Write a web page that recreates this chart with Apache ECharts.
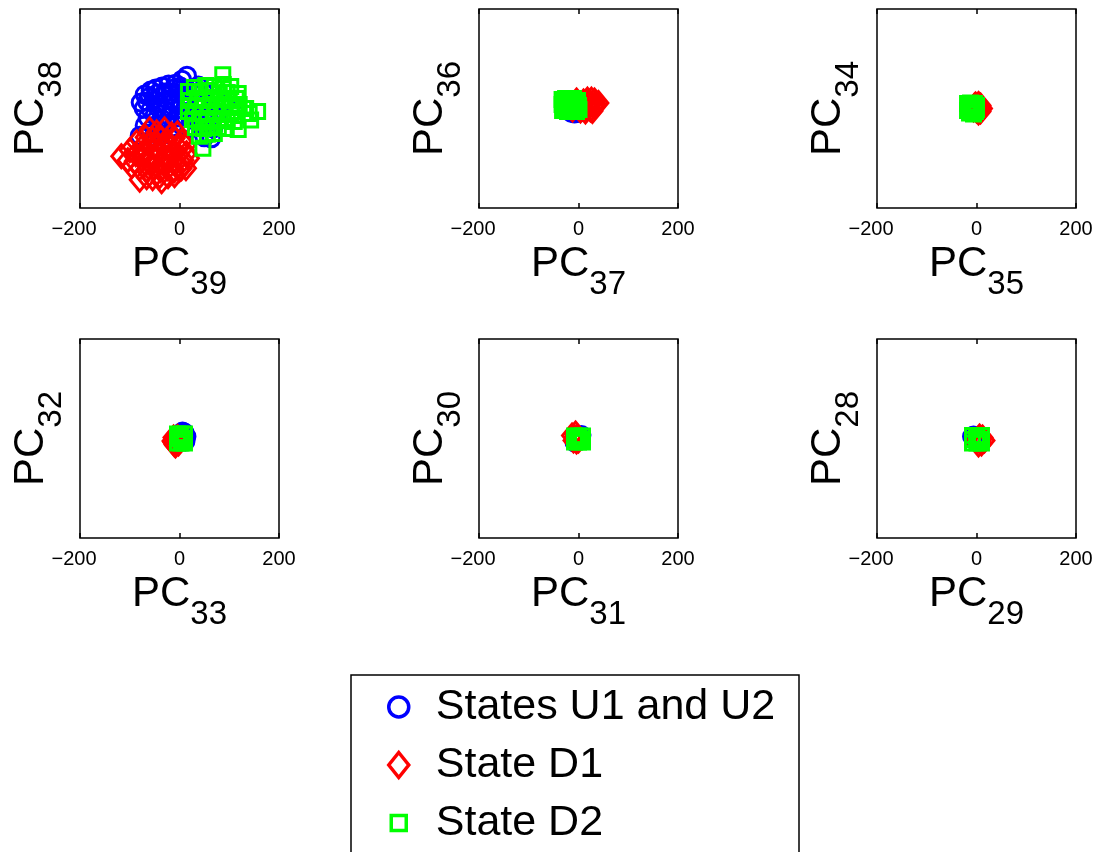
<!DOCTYPE html>
<html>
<head>
<meta charset="utf-8">
<script src="https://cdn.jsdelivr.net/npm/echarts@6/dist/echarts.min.js"></script>
<style>
html, body { margin: 0; padding: 0; background: #fff; }
#main { width: 1099px; height: 852px; }
</style>
</head>
<body>
<div id="main"></div>
<script>
// PC pairs per panel (x axis / y axis)
var xPCs = ['39', '37', '35', '33', '31', '29'];
var yPCs = ['38', '36', '34', '32', '30', '28'];
var xTicks = [-200, 0, 200];
var seriesNames = ['States U1 and U2', 'State D1', 'State D2'];

// panel 1: PC39 / PC38
var u_39 = [[15,66],[5,58],[-8,50],[-22,48],
  [-35,44],[-48,40],[-58,36],[-12,40],[2,44],[25,40],[38,46],
  [-70,28],[-60,24],[-45,30],[-30,32],[-18,28],[-4,30],[10,26],[28,30],[48,34],[62,30],
  [-78,12],[-66,14],[-52,16],[-40,10],[-26,18],[-12,12],[2,16],[16,12],[34,18],[50,14],[74,16],[92,10],[104,6],
  [-72,0],[-58,-2],[-44,2],[-30,-4],[-16,0],[-2,-2],[12,2],[26,-6],[42,0],[58,-4],[80,-8],
  [-64,-18],[-50,-14],[-36,-20],[-20,-16],[-6,-18],[8,-14],[22,-20],[40,-18],[60,-22],
  [-70,-34],[-52,-36],[-34,-32],[-14,-38],[4,-34],[22,-40],[44,-38],[68,-40],
  [-80,-55],[-60,-50],[-40,-56],[-20,-52],[50,-58],[64,-60]];
var d1_39 = [[-60,-42],[-46,-48],[-30,-42],[-16,-52],[-4,-50],
  [-68,-58],[-54,-62],[-40,-58],[-26,-64],[-10,-60],[4,-66],
  [-86,-68],[-74,-76],[-60,-72],[-46,-78],[-32,-74],[-18,-80],[-4,-76],[12,-74],
  [-100,-84],[-88,-92],[-72,-90],[-58,-94],[-44,-88],[-30,-96],[-16,-90],[-2,-94],[14,-90],
  [-117,-96],[-104,-104],[-90,-106],[-76,-102],[-62,-108],[-48,-102],[-34,-108],[-20,-104],[-6,-108],[8,-104],[19,-100],
  [-96,-116],[-80,-120],[-66,-124],[-52,-118],[-38,-124],[-24,-120],[-10,-124],[4,-120],[13,-120],
  [-80,-143],[-66,-138],[-54,-140],[-40,-136],[-36,-146],[-23,-136],[-10,-134],[0,-123]];
var d2_39 = [[87,68],
  [53,46],[70,44],[103,44],[30,42],[88,48],
  [18,34],[40,34],[62,36],[80,30],[96,32],[118,30],
  [22,16],[36,20],[50,18],[66,22],[84,18],[100,15],[114,20],
  [18,4],[32,6],[46,2],[60,6],[74,4],[90,8],[106,2],[120,8],[133,0],
  [18,-6],[28,-10],[42,-8],[56,-12],[72,-6],[88,-8],[104,-12],[116,-6],[140,-10],[157,-6],
  [26,-22],[40,-20],[54,-26],[68,-20],[82,-24],[96,-20],[110,-26],[143,-23],
  [32,-38],[48,-40],[62,-36],[78,-38],[94,-40],[118,-42],
  [40,-56],[56,-52],[70,-50],
  [47,-80]];

// panel 2: PC37 / PC36
var u_37 = [[-14,-9],[-8,-10],[-2,-9],[2,-8],[-10,0],[-4,6],[0,-2],[-16,4],[-6,12],[4,2],[-12,-4],[6,-6]];
var d1_37 = [[40,11],[32,16],[32,4],[26,18],[24,10],[24,-2],[28,-5],[18,18],[16,6],[14,-6],[10,14],[6,2],[4,-4],
  [0,10],[-4,16],[-8,4],[-12,-2],[20,12],[12,0],[34,10]];
var d2_37 = [[-33,18],[-33,8],[-32,-4],[-26,20],[-25,12],[-24,2],[-22,-6],[-18,16],[-16,6],[-14,-3],[-10,20],[-8,10],
  [-6,0],[-4,-6],[-2,16],[0,6],[1,-2],[-28,0],[-20,-2],[-12,12],[-30,14],[-4,4]];

// panel 3: PC35 / PC34
var u_35 = [[0,0],[-4,4],[-6,-4],[2,-2],[-2,6],[-8,2]];
var d1_35 = [[11,0],[8,6],[8,-6],[4,9],[4,-8],[2,2],[0,-4],[-4,6],[-6,-2],[6,2],[-2,8]];
var d2_35 = [[-18,10],[-18,-4],[-16,2],[-12,11],[-12,-8],[-8,4],[-6,-11],[-4,10],[-2,-6],[0,6],[0,-2],[-10,-2],
  [-14,6],[-6,0],[-14,-9]];

// panel 4: PC33 / PC32
var u_33 = [[14,4],[12,-6],[10,12],[6,14],[2,10],[8,0],[4,-4],[-2,6],[0,0]];
var d1_33 = [[-14,-5],[-12,2],[-10,-12],[-8,-14],[-6,-2],[-4,3],[-2,-10],[-12,-8]];
var d2_33 = [[-4,9],[10,9],[-4,-9],[10,-9],[3,9],[3,-9],[-4,0],[10,0],[0,5],[6,-4]];

// panel 5: PC31 / PC30
var u_31 = [[-8,-8],[6,7],[2,0],[-2,-4],[4,-4],[-4,4]];
var d1_31 = [[-13,6],[-10,-4],[-6,10],[-4,-6],[-8,2],[-2,4],[0,-4]];
var d2_31 = [[-8,5],[8,5],[-8,-7],[8,-7],[0,5],[0,-7],[-8,-1],[8,-1],[-3,2],[4,-3]];

// panel 6: PC29 / PC28
var u_29 = [[-9,4],[-6,6],[0,2],[4,-4],[-4,-4]];
var d1_29 = [[16,-4],[12,2],[10,-10],[6,4],[4,-12],[8,-4],[2,-2]];
var d2_29 = [[-8,6],[10,6],[-8,-9],[10,-9],[1,6],[1,-9],[-8,-2],[10,-2],[0,0],[5,-4]];

var panelData = [
  [u_39, d1_39, d2_39],
  [u_37, d1_37, d2_37],
  [u_35, d1_35, d2_35],
  [u_33, d1_33, d2_33],
  [u_31, d1_31, d2_31],
  [u_29, d1_29, d2_29]
];

var FONT = "'Liberation Sans', Arial, Helvetica, sans-serif";
var colors = ['#0000ff', '#ff0000', '#00ff00'];
var symbols = ['circle', 'diamond', 'rect'];
var symbolSizes = [17, [19, 23], 14];

var lefts = [80, 479, 877];
var tops = [9, 339];
var boxSize = 199;

function pcName(sub) {
  return '{a|PC}{b|' + sub + '}';
}
var nameRich = {
  a: { fontSize: 42, fontFamily: FONT, color: '#000' },
  b: { fontSize: 33, fontFamily: FONT, color: '#000', padding: [40, 0, 0, 0] }
};
var tickStyle = { show: true, inside: true, length: 5, lineStyle: { color: '#000', width: 1.5 } };

var grids = [], xAxes = [], yAxes = [], series = [];
for (var i = 0; i < 6; i++) {
  grids.push({
    left: lefts[i % 3], top: tops[Math.floor(i / 3)], width: boxSize, height: boxSize,
    show: true, borderColor: '#000', borderWidth: 1.5, backgroundColor: '#fff',
    containLabel: false, outerBoundsMode: 'none'
  });
  xAxes.push({
    gridIndex: i, type: 'value', position: 'bottom',
    min: xTicks[0], max: xTicks[xTicks.length - 1], interval: 200,
    axisLine: { show: false, onZero: false },
    axisTick: tickStyle,
    axisLabel: {
      color: '#000', fontSize: 20, fontFamily: FONT, margin: 11,
      formatter: function (v) { return v < 0 ? '{n|\u2212' + Math.abs(v) + '}' : String(v); },
      rich: { n: { fontSize: 20, fontFamily: FONT, color: '#000', padding: [0, 12, 0, 0] } }
    },
    splitLine: { show: false },
    name: pcName(xPCs[i]), nameLocation: 'middle', nameGap: 20, nameMoveOverlap: false,
    nameTextStyle: { fontFamily: FONT, color: '#000', rich: nameRich }
  });
  xAxes.push({
    gridIndex: i, type: 'value', position: 'top',
    min: xTicks[0], max: xTicks[xTicks.length - 1], interval: 200,
    axisLine: { show: false, onZero: false },
    axisTick: tickStyle,
    axisLabel: { show: false },
    splitLine: { show: false }
  });
  yAxes.push({
    gridIndex: i, type: 'value', min: -200, max: 200,
    axisLine: { show: false, onZero: false }, axisTick: { show: false }, axisLabel: { show: false },
    splitLine: { show: false },
    name: pcName(yPCs[i]), nameLocation: 'middle', nameRotate: 90, nameGap: 12, nameMoveOverlap: false,
    nameTextStyle: { fontFamily: FONT, color: '#000', rich: nameRich }
  });
  for (var s = 0; s < 3; s++) {
    series.push({
      name: seriesNames[s], type: 'scatter',
      xAxisIndex: 2 * i, yAxisIndex: i,
      data: panelData[i][s],
      symbol: symbols[s], symbolSize: symbolSizes[s],
      itemStyle: { color: 'rgba(0,0,0,0)', borderColor: colors[s], borderWidth: 3, opacity: 1 },
      emphasis: { disabled: true },
      silent: true
    });
  }
}

// legend rows: one legend component per entry so each marker keeps its own size
var legendRowsY = [707, 765, 823];
var legendIconW = [20, 20, 15];
var legendIconH = [20, 25, 15];
var legends = [];
for (var k = 0; k < 3; k++) {
  legends.push({
    data: [seriesNames[k]], orient: 'vertical', selectedMode: false, padding: 0,
    left: 397 - legendIconW[k] / 2, top: legendRowsY[k] - 25,
    icon: symbols[k], itemWidth: legendIconW[k], itemHeight: legendIconH[k],
    itemStyle: { color: 'rgba(0,0,0,0)', borderColor: colors[k], borderWidth: 3.5 },
    textStyle: {
      fontSize: 43, fontFamily: FONT, color: '#000', lineHeight: 50,
      padding: [0, 0, 0, 32 - legendIconW[k] / 2]
    }
  });
}

var myChart = echarts.init(document.getElementById('main'));
myChart.setOption({
  animation: false,
  backgroundColor: '#fff',
  grid: grids,
  xAxis: xAxes,
  yAxis: yAxes,
  legend: legends,
  graphic: [{
    type: 'rect', silent: true,
    shape: { x: 351, y: 675, width: 448, height: 220 },
    style: { fill: 'none', stroke: '#000', lineWidth: 1.5 }
  }],
  series: series
});
</script>
</body>
</html>
